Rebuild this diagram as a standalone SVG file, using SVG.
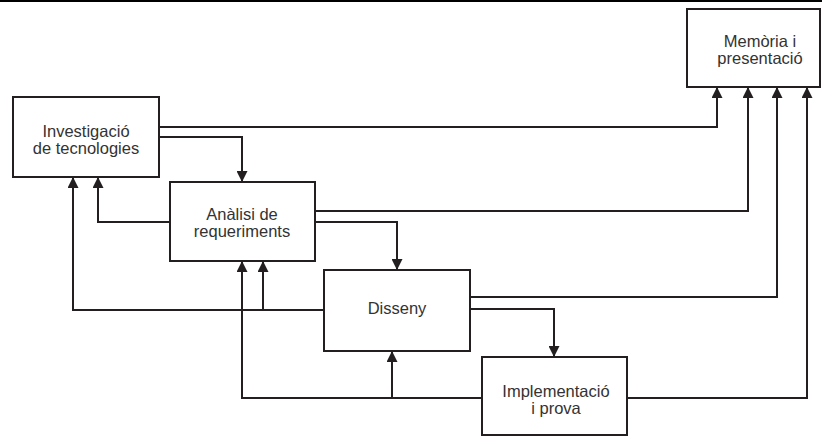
<svg xmlns="http://www.w3.org/2000/svg" width="822" height="437" viewBox="0 0 822 437">
<style>
.box{fill:#fff;stroke:#231f20;stroke-width:2}
.lbl{font-family:"Liberation Sans",Arial,sans-serif;font-size:16.5px;fill:#333;text-anchor:middle}
.c{fill:none;stroke:#231f20;stroke-width:2}
</style>
<defs>
<marker id="ar" markerUnits="userSpaceOnUse" markerWidth="11" markerHeight="11" refX="10" refY="5" orient="auto" viewBox="0 0 10 10">
<path d="M0,0 L10,5 L0,10 z" fill="#231f20"/>
</marker>
</defs>
<rect width="822" height="437" fill="#fff"/>
<line x1="0" y1="1" x2="822" y2="1" stroke="#000" stroke-width="2"/>
<g id="connectors">
<path class="c" d="M159,127 H717 V87" marker-end="url(#ar)"/>
<path class="c" d="M159,137 H242 V182" marker-end="url(#ar)"/>
<path class="c" d="M315,211 H748 V87" marker-end="url(#ar)"/>
<path class="c" d="M315,222 H397 V270" marker-end="url(#ar)"/>
<path class="c" d="M170,222 H98 V177" marker-end="url(#ar)"/>
<path class="c" d="M324,310 H73 V177" marker-end="url(#ar)"/>
<path class="c" d="M263,310 V261" marker-end="url(#ar)"/>
<path class="c" d="M470,297 H777 V87" marker-end="url(#ar)"/>
<path class="c" d="M470,309 H554 V357" marker-end="url(#ar)"/>
<path class="c" d="M482,398 H242 V261" marker-end="url(#ar)"/>
<path class="c" d="M392,398 V351" marker-end="url(#ar)"/>
<path class="c" d="M627,398 H807 V87" marker-end="url(#ar)"/>
</g>
<g id="memoria">
<rect class="box" x="687" y="9" width="133" height="78"/>
<text class="lbl" x="760" y="47">Memòria i</text>
<text class="lbl" x="760" y="64">presentació</text>
</g>
<g id="investigacio">
<rect class="box" x="13" y="97" width="146" height="80"/>
<text class="lbl" x="86" y="137">Investigació</text>
<text class="lbl" x="86" y="154">de tecnologies</text>
</g>
<g id="analisi">
<rect class="box" x="170" y="182" width="145" height="79"/>
<text class="lbl" x="242" y="220">Anàlisi de</text>
<text class="lbl" x="242" y="237">requeriments</text>
</g>
<g id="disseny">
<rect class="box" x="324" y="270" width="146" height="81"/>
<text class="lbl" x="397" y="314">Disseny</text>
</g>
<g id="implementacio">
<rect class="box" x="482" y="357" width="145" height="78"/>
<text class="lbl" x="556" y="397">Implementació</text>
<text class="lbl" x="556" y="414">i prova</text>
</g>
</svg>
